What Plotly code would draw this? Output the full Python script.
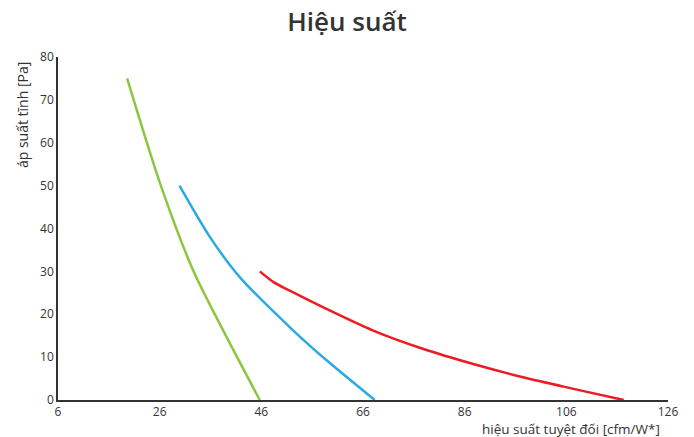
import plotly.graph_objects as go

green_x = [19.6, 26.2, 32.6, 39.2, 45.7]
green_y = [75, 50.1, 30.2, 14.6, 0]

blue_x = [29.9, 35.9, 41.8, 52.3, 58.9, 68.3]
blue_y = [50, 38.0, 28.6, 16.2, 9.2, 0]

red_x = [45.7, 48.4, 51.6, 58.2, 68.0, 77.9, 87.7, 97.5, 107.4, 117.3]
red_y = [30, 27.5, 25.5, 21.6, 16.2, 11.9, 8.4, 5.3, 2.6, 0]

x_ticks = [6, 26, 46, 66, 86, 106, 126]
y_ticks = [0, 10, 20, 30, 40, 50, 60, 70, 80]

font = "Open Sans"
fig = go.Figure()
for xs, ys, c in [(green_x, green_y, "#8cc63f"), (blue_x, blue_y, "#29abe2"), (red_x, red_y, "#ed1c24")]:
    fig.add_trace(go.Scatter(x=xs, y=ys, mode="lines", line=dict(color=c, width=2.5, shape="spline", smoothing=0.8),
                             showlegend=False, hoverinfo="skip"))

fig.update_layout(
    width=694, height=437,
    margin=dict(l=58, r=26, t=57, b=37),
    paper_bgcolor="white", plot_bgcolor="white",
    font=dict(family=font, color="#333333", size=12),
    title=dict(text="Hiệu suất", x=0.5, xanchor="center", y=0.95, yanchor="middle",
               font=dict(size=26, color="#333333", family=font, weight=600)),
    xaxis=dict(range=[6, 126], tickvals=x_ticks, showgrid=False, zeroline=False,
               showline=True, linecolor="#333333", linewidth=1.5, ticks="", tickfont=dict(size=12)),
    yaxis=dict(range=[0, 80], tickvals=y_ticks, showgrid=False, zeroline=False,
               showline=True, linecolor="#333333", linewidth=1.5, ticks="", tickfont=dict(size=12)),
    annotations=[
        dict(text="áp suất tĩnh [Pa]", xref="paper", yref="paper", x=-0.058, y=0.99,
             xanchor="center", yanchor="top", textangle=-90, showarrow=False, font=dict(size=14)),
        dict(text="hiệu suất tuyệt đối [cfm/W*]", xref="paper", yref="paper", x=0.99, y=-0.085,
             xanchor="right", yanchor="middle", showarrow=False, font=dict(size=13.5)),
    ],
)
fig.write_html("out.html", config={"displayModeBar": False},
               post_script="document.body.style.margin='0px';")
